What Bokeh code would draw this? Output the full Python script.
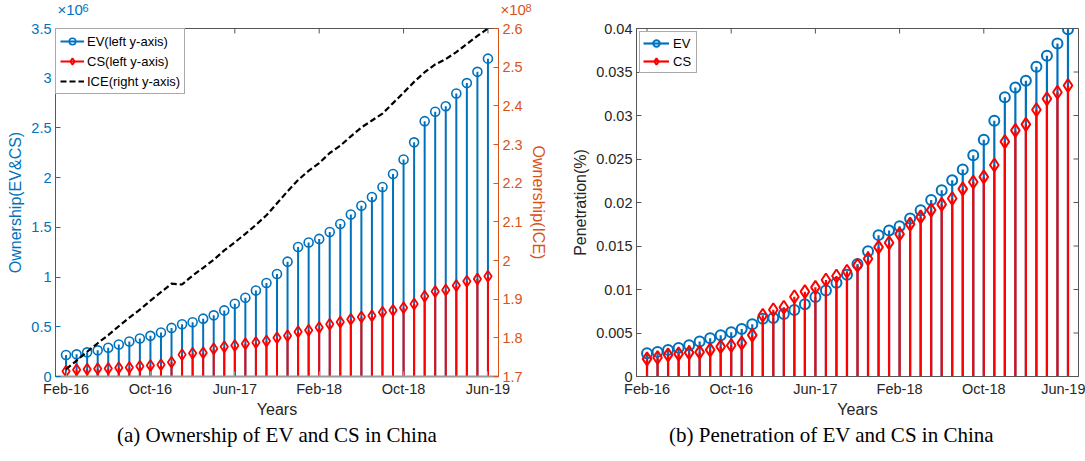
from bokeh.plotting import figure
from bokeh.models import (Range1d, LinearAxis, FixedTicker, Legend, LegendItem,
                          PrintfTickFormatter)
from bokeh.layouts import row, column
from bokeh.core.properties import value
from bokeh.embed import file_html
from bokeh.resources import INLINE

# ---------------- data ----------------
month_index = list(range(41))  # Feb-16 ... Jun-19, monthly
tick_index = [0, 8, 16, 24, 32, 40]
tick_labels = ["Feb-16", "Oct-16", "Jun-17", "Feb-18", "Oct-18", "Jun-19"]

# Ownership, units of 10^6
ev_own = [0.216, 0.223, 0.243, 0.263, 0.289, 0.322, 0.352, 0.382, 0.409, 0.442, 0.489,
          0.526, 0.546, 0.582, 0.615, 0.665, 0.732, 0.792, 0.865, 0.941, 1.031, 1.155,
          1.302, 1.347, 1.384, 1.454, 1.534, 1.630, 1.717, 1.806, 1.906, 2.036, 2.182,
          2.355, 2.568, 2.662, 2.718, 2.847, 2.951, 3.064, 3.197]
cs_own = [0.053, 0.067, 0.073, 0.077, 0.080, 0.087, 0.090, 0.103, 0.110, 0.117, 0.143,
          0.220, 0.233, 0.240, 0.279, 0.299, 0.312, 0.329, 0.342, 0.356, 0.389, 0.409,
          0.451, 0.466, 0.492, 0.526, 0.549, 0.576, 0.599, 0.612, 0.646, 0.666, 0.692,
          0.729, 0.808, 0.855, 0.871, 0.915, 0.958, 0.981, 1.008]
# ICE ownership, units of 10^8
ice_own = [1.719, 1.741, 1.764, 1.786, 1.807, 1.830, 1.852, 1.873, 1.896, 1.918, 1.940,
           1.938, 1.961, 1.981, 2.002, 2.026, 2.047, 2.069, 2.092, 2.117, 2.148, 2.179,
           2.208, 2.232, 2.252, 2.278, 2.297, 2.321, 2.344, 2.362, 2.380, 2.407, 2.434,
           2.462, 2.487, 2.507, 2.521, 2.539, 2.560, 2.581, 2.600]
# Penetration
ev_pen = [0.00268, 0.00283, 0.00306, 0.00329, 0.00360, 0.00401, 0.00440, 0.00475, 0.00509,
          0.00547, 0.00601, 0.00665, 0.00673, 0.00719, 0.00765, 0.00830, 0.00914, 0.00988,
          0.01078, 0.01170, 0.01292, 0.01441, 0.01625, 0.01678, 0.01728, 0.01816, 0.01912,
          0.02030, 0.02141, 0.02256, 0.02378, 0.02542, 0.02722, 0.02940, 0.03211, 0.03322,
          0.03399, 0.03560, 0.03686, 0.03827, 0.03990]
cs_pen = [0.00203, 0.00218, 0.00249, 0.00260, 0.00275, 0.00280, 0.00306, 0.00344, 0.00356,
          0.00383, 0.00475, 0.00704, 0.00768, 0.00796, 0.00917, 0.00975, 0.01025, 0.01109,
          0.01155, 0.01209, 0.01277, 0.01353, 0.01487, 0.01537, 0.01636, 0.01751, 0.01835,
          0.01912, 0.01978, 0.02046, 0.02156, 0.02236, 0.02294, 0.02431, 0.02700, 0.02829,
          0.02898, 0.03066, 0.03193, 0.03268, 0.03345]

own_ticks = [0, 0.5, 1, 1.5, 2, 2.5, 3, 3.5]
ice_ticks = [1.7, 1.8, 1.9, 2.0, 2.1, 2.2, 2.3, 2.4, 2.5, 2.6]
pen_ticks = [0, 0.005, 0.01, 0.015, 0.02, 0.025, 0.03, 0.035, 0.04]

captions = ["(a) Ownership of EV and CS in China", "(b) Penetration of EV and CS in China"]

# ---------------- style ----------------
BLUE = "#0072BD"
RED = "#FF0000"
ORANGE = "#D95319"
DARK = "#262626"
SANS = "Liberation Sans"
SERIF = "Liberation Serif"
TICK_FS = "14.5px"
LAB_FS = "16px"
W, H = 1085, 461
HDR_H = 17
BOT = 45           # space under each plot frame for ticks + "Years"
MID_H = 376 - HDR_H + BOT
FTR_H = H - HDR_H - MID_H


def style_axis(ax, color, label_color=None):
    ax.axis_line_color = color
    ax.major_tick_line_color = color
    ax.major_tick_in = 5
    ax.major_tick_out = 0
    ax.minor_tick_line_color = None
    ax.major_label_text_color = label_color or color
    ax.major_label_text_font = SANS
    ax.major_label_text_font_size = TICK_FS
    ax.major_label_standoff = 4
    ax.axis_label_text_font = SANS
    ax.axis_label_text_font_size = LAB_FS
    ax.axis_label_text_font_style = "normal"
    ax.axis_label_text_color = label_color or color
    ax.axis_label_standoff = 1


def text_strip(height):
    f = figure(width=W, height=height, output_backend="svg", toolbar_location=None,
               x_range=Range1d(0, W), y_range=Range1d(0, height),
               min_border=0, min_border_left=0, min_border_right=0,
               min_border_top=0, min_border_bottom=0,
               x_axis_type=None, y_axis_type=None)
    f.outline_line_color = None
    f.xgrid.visible = False
    f.ygrid.visible = False
    return f


x_over = {i: t for i, t in zip(tick_index, tick_labels)}

# ---------------- header strip with the axis multipliers ----------------
hdr = text_strip(HDR_H)
hdr.text(x=[57], y=[0], text=["×10"], text_color=BLUE, text_font=value(SANS),
         text_font_size="15px", text_baseline="bottom", text_align="left")
hdr.text(x=[82], y=[6], text=["6"], text_color=BLUE, text_font=value(SANS),
         text_font_size="11px", text_baseline="bottom", text_align="left")
hdr.text(x=[500], y=[0], text=["×10"], text_color=ORANGE, text_font=value(SANS),
         text_font_size="15px", text_baseline="bottom", text_align="left")
hdr.text(x=[525], y=[6], text=["8"], text_color=ORANGE, text_font=value(SANS),
         text_font_size="11px", text_baseline="bottom", text_align="left")

# ---------------- footer strip with the captions ----------------
ftr = text_strip(FTR_H)
ftr.text(x=[276.5, 831], y=[FTR_H - 13, FTR_H - 13], text=captions, text_color="black",
         text_font=value(SERIF), text_font_size="21px", text_baseline="middle",
         text_align="center")

# ---------------- left figure ----------------
X0, X1 = -1, 41
p1 = figure(width=560, height=MID_H, output_backend="svg", toolbar_location=None,
            x_range=Range1d(X0, X1), y_range=Range1d(0, 3.5),
            min_border_left=55, min_border_right=62, min_border_top=8, min_border_bottom=BOT)
p1.extra_y_ranges = {"ice": Range1d(1.7, 2.6)}
p1.xgrid.visible = False
p1.ygrid.visible = False
p1.outline_line_color = "#555555"
p1.outline_line_width = 1

xa = p1.xaxis[0]
xa.ticker = FixedTicker(ticks=tick_index)
xa.major_label_overrides = x_over
xa.axis_label = "Years"
style_axis(xa, "#9a9a9a", DARK)
xa.axis_line_width = 2

ya = p1.yaxis[0]
ya.ticker = FixedTicker(ticks=own_ticks)
ya.formatter = PrintfTickFormatter(format="%g")
ya.axis_label = "Ownership(EV&CS)"
style_axis(ya, BLUE)
ya.axis_label_standoff = 4

ra = LinearAxis(y_range_name="ice", ticker=FixedTicker(ticks=ice_ticks),
                formatter=PrintfTickFormatter(format="%g"), axis_label="Ownership(ICE)")
style_axis(ra, ORANGE)
ra.axis_label_standoff = 4
p1.add_layout(ra, "right")

# inward ticks along the top edge (box on)
t1 = 3.5 * 5 / 351
p1.segment(x0=tick_index, y0=[3.5] * 6, x1=tick_index, y1=[3.5 - t1] * 6,
           line_color="#555555", line_width=1)

seg_ev = p1.segment(x0=month_index, y0=[0] * 41, x1=month_index, y1=ev_own,
                    line_color=BLUE, line_width=2)
sc_ev = p1.scatter(month_index, ev_own, marker="circle", size=9, line_color=BLUE,
                   fill_color=None, line_width=1.6)
seg_cs = p1.segment(x0=month_index, y0=[0] * 41, x1=month_index, y1=cs_own,
                    line_color=RED, line_width=2)
sc_cs = p1.scatter(month_index, cs_own, marker="diamond", size=11, line_color=RED,
                   fill_color=None, line_width=1.8)
ln_ice = p1.line(month_index, ice_own, y_range_name="ice", line_color="black",
                 line_width=2.2, line_dash="6 3")

leg1 = Legend(items=[LegendItem(label="EV(left y-axis)", renderers=[seg_ev, sc_ev]),
                     LegendItem(label="CS(left y-axis)", renderers=[seg_cs, sc_cs]),
                     LegendItem(label="ICE(right y-axis)", renderers=[ln_ice])],
              location="top_left", margin=0, padding=4, spacing=4,
              glyph_width=24, glyph_height=16, label_standoff=3,
              label_text_font=SANS, label_text_font_size="13px", label_text_color="black",
              border_line_color="#555555", border_line_width=1,
              background_fill_color="white", background_fill_alpha=1)
p1.add_layout(leg1)

# ---------------- right figure ----------------
YP = 0.04
p2 = figure(width=525, height=MID_H, output_backend="svg", toolbar_location=None,
            x_range=Range1d(X0, X1), y_range=Range1d(0, YP),
            min_border_left=76, min_border_right=7, min_border_top=11, min_border_bottom=BOT)
p2.xgrid.visible = False
p2.ygrid.visible = False
p2.outline_line_color = "#555555"
p2.outline_line_width = 1

xb = p2.xaxis[0]
xb.ticker = FixedTicker(ticks=tick_index)
xb.major_label_overrides = x_over
xb.axis_label = "Years"
style_axis(xb, "#555555", DARK)

yb = p2.yaxis[0]
yb.ticker = FixedTicker(ticks=pen_ticks)
yb.formatter = PrintfTickFormatter(format="%g")
yb.axis_label = "Penetration(%)"
style_axis(yb, "#555555", DARK)
yb.axis_label_standoff = 4

# inward ticks along the top and right edges (box on)
t2y = YP * 5 / 348
t2x = (X1 - X0) * 5 / 442
p2.segment(x0=tick_index, y0=[YP] * 6, x1=tick_index, y1=[YP - t2y] * 6,
           line_color="#555555", line_width=1)
p2.segment(x0=[X1] * len(pen_ticks), y0=pen_ticks, x1=[X1 - t2x] * len(pen_ticks),
           y1=pen_ticks, line_color="#555555", line_width=1)

seg_ev2 = p2.segment(x0=month_index, y0=[0] * 41, x1=month_index, y1=ev_pen,
                     line_color=BLUE, line_width=2.2)
sc_ev2 = p2.scatter(month_index, ev_pen, marker="circle", size=10, line_color=BLUE,
                    fill_color=None, line_width=2)
seg_cs2 = p2.segment(x0=month_index, y0=[0] * 41, x1=month_index, y1=cs_pen,
                     line_color=RED, line_width=2.2)
sc_cs2 = p2.scatter(month_index, cs_pen, marker="diamond", size=13, line_color=RED,
                    fill_color=None, line_width=2)

leg2 = Legend(items=[LegendItem(label="EV", renderers=[seg_ev2, sc_ev2]),
                     LegendItem(label="CS", renderers=[seg_cs2, sc_cs2])],
              location="top_left", margin=3, padding=3, spacing=2,
              glyph_width=26, glyph_height=16, label_standoff=4,
              label_text_font=SANS, label_text_font_size="13px", label_text_color="black",
              border_line_color="#555555", border_line_width=1,
              background_fill_color="white", background_fill_alpha=1)
p2.add_layout(leg2)

layout = column(hdr, row(p1, p2), ftr)
open("out.html", "w").write(file_html(layout, INLINE))
